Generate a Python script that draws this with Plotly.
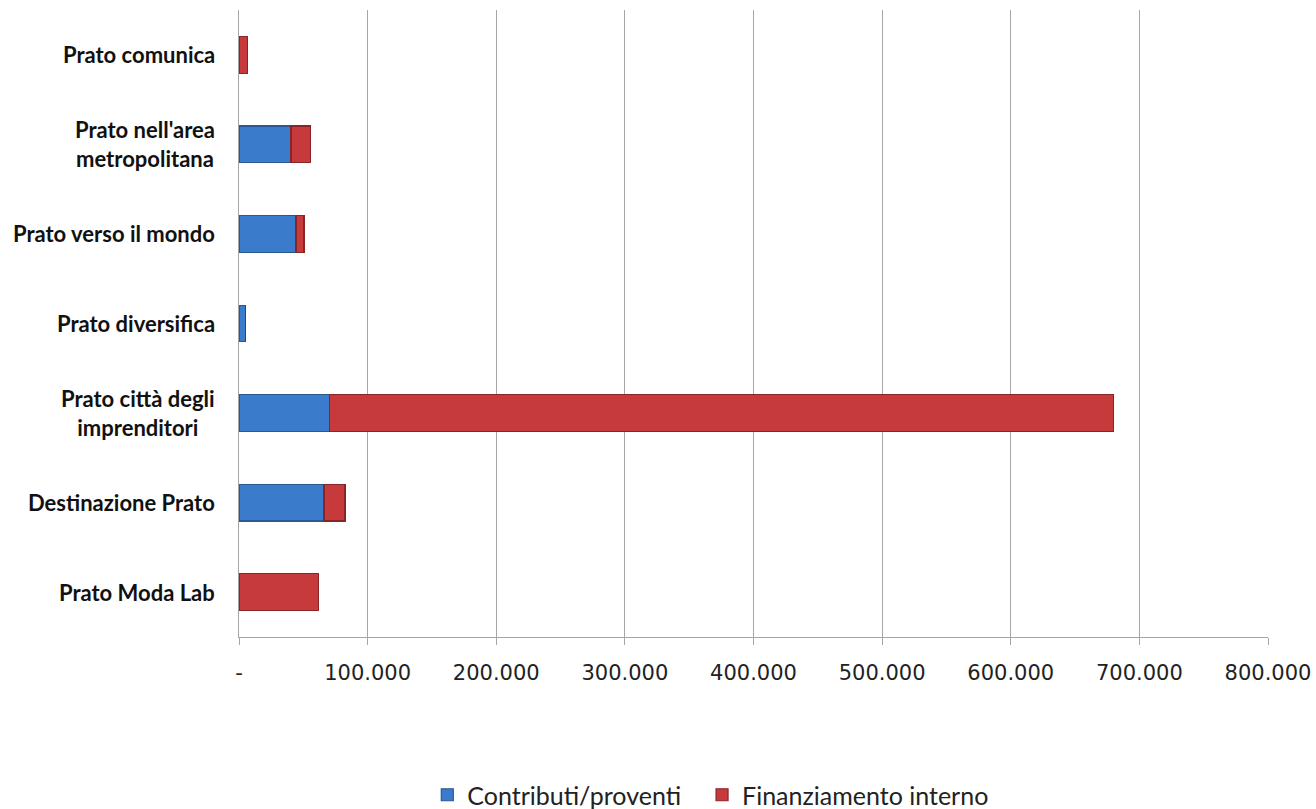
import plotly.graph_objects as go

categories = [
    "Prato Moda Lab",
    "Destinazione Prato",
    "Prato città degli<br>imprenditori",
    "Prato diversifica",
    "Prato verso il mondo",
    "Prato nell'area<br>metropolitana",
    "Prato comunica",
]
contributi = [0, 66100, 70200, 5200, 44300, 40400, 0]
finanziamento = [61700, 16300, 609900, 0, 6200, 15300, 6800]

tick_vals = [0, 100000, 200000, 300000, 400000, 500000, 600000, 700000, 800000]
tick_text = ["-", "100.000", "200.000", "300.000", "400.000", "500.000", "600.000", "700.000", "800.000"]

fig = go.Figure()
fig.add_trace(go.Bar(
    y=categories, x=contributi, orientation="h", name="Contributi/proventi",
    marker=dict(color="#3B7BCB", line=dict(color="#2A5890", width=1.2)),
    legend="legend",
))
fig.add_trace(go.Bar(
    y=categories, x=finanziamento, orientation="h", name="Finanziamento interno",
    marker=dict(color="#C63A3C", line=dict(color="#8A2527", width=1.2)),
    legend="legend2",
))

for cat in categories:
    fig.add_annotation(
        x=0, xref="paper", xanchor="right", xshift=-22,
        y=cat, yref="y", yanchor="middle",
        text=cat, showarrow=False, align="center",
        font=dict(family="Lato", size=22, color="#111", weight="bold"),
    )

legend_font = dict(family="Lato", size=25, color="#222")

fig.update_layout(
    width=1316, height=809,
    barmode="stack", bargap=0.59,
    plot_bgcolor="white", paper_bgcolor="white",
    margin=dict(l=239, r=48, t=10, b=172, autoexpand=False),
    showlegend=True,
    legend=dict(orientation="h", x=0.183, xanchor="left", y=-0.252, yanchor="middle",
                font=legend_font, bgcolor="rgba(0,0,0,0)"),
    legend2=dict(orientation="h", x=0.45, xanchor="left", y=-0.252, yanchor="middle",
                 font=legend_font, bgcolor="rgba(0,0,0,0)"),
    xaxis=dict(range=[0, 800000], tickvals=tick_vals, ticktext=tick_text,
               showgrid=True, gridcolor="#A6A6A6", gridwidth=1,
               showline=True, linecolor="#A6A6A6", linewidth=1,
               ticks="outside", ticklen=7, tickcolor="#A6A6A6",
               ticklabelstandoff=10, automargin=False, ticklabeloverflow="allow",
               tickfont=dict(family="DejaVu Sans", size=21, color="#222"),
               zeroline=False),
    yaxis=dict(showline=True, linecolor="#A6A6A6", linewidth=1, showgrid=False,
               ticks="", showticklabels=False, automargin=False),
)

fig.write_html(
    "out.html",
    config={"displayModeBar": False},
    post_script="document.body.style.margin='0';document.body.style.overflow='hidden';",
)
